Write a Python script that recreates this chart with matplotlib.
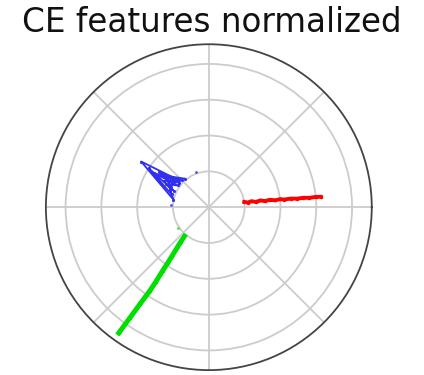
import numpy as np
import matplotlib
matplotlib.use('Agg')
import matplotlib.pyplot as plt

# angles in degrees, radii
red_theta = [8.5, 6.8, 8.0, 6.4, 7.4, 6.2, 6.9, 5.9, 6.4, 5.8, 6.0, 5.5, 5.7, 5.3, 5.5, 5.3]
red_r = [1.00, 1.10, 1.20, 1.32, 1.45, 1.58, 1.72, 1.86, 2.00, 2.12, 2.30, 2.48, 2.65, 2.82, 3.00, 3.14]

blue_theta = [130, 146, 135, 150, 140, 148, 145, 152, 155, 147, 161, 150, 168, 146, 138, 145, 142, 152, 144]
blue_r = [1.04, 1.60, 1.06, 1.45, 1.07, 1.80, 1.06, 1.35, 1.08, 2.00, 1.10, 1.30, 1.01, 2.28, 1.12, 1.70, 1.25, 1.20, 1.50]
blue_stray_theta = [110, 176.5]
blue_stray_r = [1.04, 1.05]

green_theta = [230.0, 231.0, 232.0, 233.0, 233.6, 234.0, 234.6, 234.8, 234.6, 234.5, 234.4]
green_r = [1.06, 1.25, 1.45, 1.70, 1.93, 2.20, 2.55, 2.87, 3.30, 3.80, 4.32]
green_stray_theta = [214.5]
green_stray_r = [1.05]

fig = plt.figure(figsize=(4.24, 3.75), dpi=100)
ax = fig.add_axes([0.108, 0.013, 0.769, 0.869], projection='polar')

ax.plot(np.radians(red_theta), red_r, color='#ff0000', lw=2.8, marker='.', ms=3)
ax.plot(np.radians(blue_theta), blue_r, color='#3030ee', lw=1.3, marker='.', ms=2.5)
ax.plot(np.radians(blue_stray_theta), blue_stray_r, '.', color='#5555ee', ms=2)
ax.plot(np.radians(green_theta), green_r, color='#00e000', lw=3.6, marker='.', ms=3)
ax.plot(np.radians(green_stray_theta), green_stray_r, '.', color='#55dd55', ms=2)

ax.set_rlim(0, 4.55)
ax.set_rticks([1, 2, 3, 4])
ax.set_yticklabels([])
ax.set_xticklabels([])
ax.grid(True, color='#cccccc', lw=1.3)
ax.spines['polar'].set_color('#444444')
ax.spines['polar'].set_linewidth(1.3)

fig.suptitle("CE features normalized", fontsize=23.5, y=0.985, va='top', color='#111111')

fig.savefig('out.png', dpi=100)
